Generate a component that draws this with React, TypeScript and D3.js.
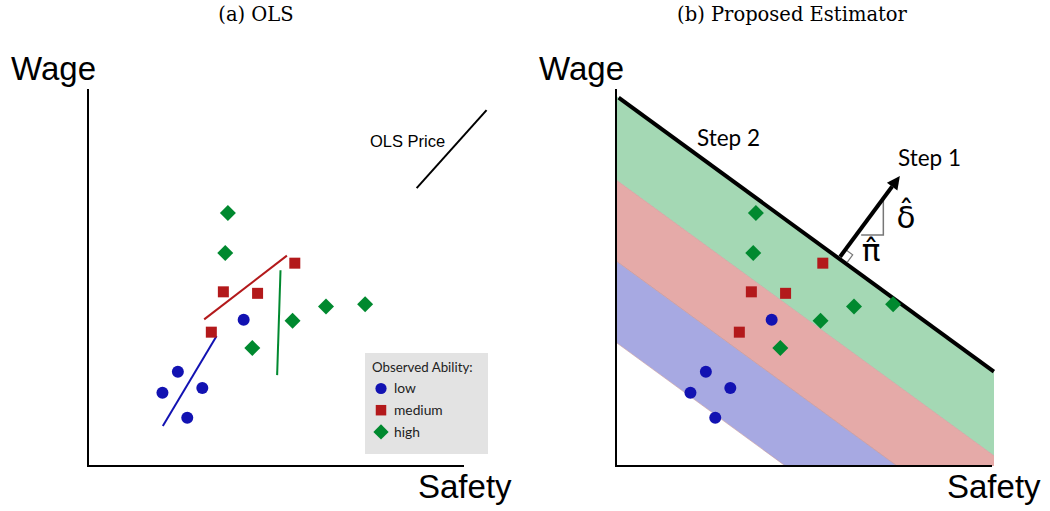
import React from "react";
import * as d3 from "d3";

// ---------- data (same observations drawn in both panels) ----------
const groups = ["low", "medium", "high"];
const lowX = [4.14, 2.39, 1.98, 3.04, 2.64];
const lowY = [3.88, 2.5, 1.94, 2.07, 1.28];
const medX = [5.5, 3.6, 4.51, 3.28];
const medY = [5.38, 4.62, 4.58, 3.55];
const highX = [3.72, 3.65, 5.44, 6.33, 7.37, 4.37];
const highY = [6.71, 5.65, 3.85, 4.23, 4.29, 3.13];

// within-group OLS lines (panel a)
const lowLineX = [1.99, 3.42];
const lowLineY = [1.06, 3.45];
const medLineX = [3.09, 5.29];
const medLineY = [3.89, 5.58];
const highLineX = [5.03, 5.12];
const highLineY = [2.41, 5.19];
const olsPriceX = [8.74, 10.6];
const olsPriceY = [7.37, 9.44];

// iso-lines of panel b: wage = intercept + slope * safety
const isoSlope = -0.728;
const isoIntercepts = [9.82, 7.59, 5.44, 3.28];

// step-1 arrow and its triangle (panel b, data units)
const arrowX = [5.96, 7.55];
const arrowY = [5.55, 7.69];
const triX = [6.52, 7.11, 7.11];
const triY = [6.13, 6.13, 7.07];

const colors = { low: "#1212b2", medium: "#b3191b", high: "#00892f" };
const bandColors = ["#a4d8b4", "#e5aaa8", "#a7a9e2"];

const W = 1050;
const H = 511;

const yS = d3.scaleLinear().domain([0, 10]).range([466, 89]);
const xA = d3.scaleLinear().domain([0, 10]).range([88, 464]);
const xB = d3.scaleLinear().domain([0, 10]).range([616, 992]);

const circle = d3.symbol(d3.symbolCircle, Math.PI * 6 * 6)()!;
const square = d3.symbol(d3.symbolSquare, 11 * 11)()!;
const diamond = d3.symbol(d3.symbolSquare, 11.3 * 11.3)()!;

const serif = "'DejaVu Serif', 'Liberation Serif', serif";
const sans = "'Liberation Sans', Arial, sans-serif";
const cal = "Lato, 'Open Sans', sans-serif";

function Points({ x }: { x: d3.ScaleLinear<number, number> }) {
  return (
    <g>
      {highX.map((v, i) => (
        <path key={"h" + i} d={diamond} fill={colors.high}
          transform={`translate(${x(v)},${yS(highY[i])}) rotate(45)`} />
      ))}
      {medX.map((v, i) => (
        <path key={"m" + i} d={square} fill={colors.medium}
          transform={`translate(${x(v)},${yS(medY[i])})`} />
      ))}
      {lowX.map((v, i) => (
        <path key={"l" + i} d={circle} fill={colors.low}
          transform={`translate(${x(v)},${yS(lowY[i])})`} />
      ))}
    </g>
  );
}

function Axes({ x }: { x: d3.ScaleLinear<number, number> }) {
  const [x0, x1] = x.range();
  return (
    <g>
      <line x1={x0} x2={x0} y1={yS(10)} y2={yS(0)} stroke="#000" strokeWidth={2} />
      <line x1={x0 - 1} x2={x1} y1={yS(0)} y2={yS(0)} stroke="#000" strokeWidth={2.2} />
    </g>
  );
}

export default function App() {
  const seg = (sx: d3.ScaleLinear<number, number>, xs: number[], ys: number[]) =>
    d3.line<number>().x((d) => sx(d)).y((_, i) => yS(ys[i]))(xs)!;

  // band polygons between consecutive iso lines
  const far = 16;
  const bands = isoIntercepts.slice(0, 3).map((top, i) => {
    const bot = isoIntercepts[i + 1];
    const pts: [number, number][] = [
      [0, top], [far, top + isoSlope * far], [far, bot + isoSlope * far], [0, bot],
    ];
    return d3.line()(pts.map(([a, b]) => [xB(a), yS(b)]))! + "Z";
  });
  const blackX = [0.07, 10.05];

  // right-angle mark at arrow base
  const bx = xB(arrowX[0]);
  const by = yS(arrowY[0]);
  const tx = xB(arrowX[1]);
  const ty = yS(arrowY[1]);
  const len = Math.hypot(tx - bx, ty - by);
  const vx = (tx - bx) / len;
  const vy = (ty - by) / len;
  const ux = -vy; // along the line, pointing up-left
  const uy = vx;
  const s = 9;
  const raPath = d3.line()([
    [bx + ux * s, by + uy * s],
    [bx + ux * s + vx * s, by + uy * s + vy * s],
    [bx + vx * s, by + vy * s],
  ])!;
  const headLen = 13;
  const headW = 6.5;
  const hb = [tx - vx * headLen, ty - vy * headLen];
  const head = d3.line()([
    [tx, ty],
    [hb[0] - vy * headW, hb[1] + vx * headW],
    [hb[0] + vy * headW, hb[1] - vx * headW],
  ])! + "Z";

  return (
    <svg width={W} height={H} style={{ position: "absolute", left: 0, top: 0, background: "#fff" }}
      viewBox={`0 0 ${W} ${H}`}>
      <defs>
        <clipPath id="plotB">
          <rect x={xB(0)} y={yS(10)} width={xB(10) - xB(0) + 2} height={yS(0) - yS(10)} />
        </clipPath>
      </defs>

      {/* ---------- panel (a) ---------- */}
      <text x={256} y={21} textAnchor="middle" fontFamily={serif} fontSize={19.5} fontWeight={300}>(a) OLS</text>
      <text x={11} y={80} fontFamily={sans} fontSize={33}>Wage</text>
      <text x={418} y={498} fontFamily={sans} fontSize={33}>Safety</text>
      <Axes x={xA} />
      <path d={seg(xA, lowLineX, lowLineY)} stroke={colors.low} strokeWidth={2} fill="none" />
      <path d={seg(xA, medLineX, medLineY)} stroke={colors.medium} strokeWidth={2} fill="none" />
      <path d={seg(xA, highLineX, highLineY)} stroke={colors.high} strokeWidth={2} fill="none" />
      <path d={seg(xA, olsPriceX, olsPriceY)} stroke="#000" strokeWidth={2} fill="none" />
      <text x={370} y={147} fontFamily={sans} fontSize={16.5}>OLS Price</text>
      <Points x={xA} />

      {/* legend */}
      <g>
        <rect x={365} y={353} width={123} height={101} fill="#e3e3e3" />
        <text x={372} y={372} fontFamily={cal} fontSize={13.3} fill="#222">Observed Ability:</text>
        {groups.map((g, i) => {
          const cy = 388.5 + i * 21.7;
          const d = g === "low" ? d3.symbol(d3.symbolCircle, Math.PI * 5.6 * 5.6)()! :
            g === "medium" ? d3.symbol(d3.symbolSquare, 10.5 * 10.5)()! : d3.symbol(d3.symbolSquare, 10.8 * 10.8)()!;
          return (
            <g key={g}>
              <path d={d} fill={(colors as any)[g]}
                transform={`translate(381,${cy})${g === "high" ? " rotate(45)" : ""}`} />
              <text x={394} y={cy + 4.8} fontFamily={cal} fontSize={13.8} fill="#222">{g}</text>
            </g>
          );
        })}
      </g>

      {/* ---------- panel (b) ---------- */}
      <text x={792} y={21} textAnchor="middle" fontFamily={serif} fontSize={19.5} fontWeight={300}>(b) Proposed Estimator</text>
      <text x={539} y={80} fontFamily={sans} fontSize={33}>Wage</text>
      <text x={947} y={498} fontFamily={sans} fontSize={33}>Safety</text>
      <g clipPath="url(#plotB)">
        {bands.map((d, i) => (
          <path key={i} d={d} fill={bandColors[i]} stroke={i > 0 ? "#c99a9a" : "none"} strokeWidth={0.6} />
        ))}
      </g>
      <Axes x={xB} />
      <path d={seg(xB, blackX, blackX.map((v) => isoIntercepts[0] + isoSlope * v))}
        stroke="#000" strokeWidth={4} fill="none" />
      <Points x={xB} />

      {/* step 1 arrow */}
      <path d={raPath} fill="none" stroke="#777" strokeWidth={1.2} />
      <path d={d3.line()(triX.map((v, i) => [xB(v), yS(triY[i])]))!} fill="none" stroke="#777" strokeWidth={1.5} />
      <line x1={bx} y1={by} x2={hb[0]} y2={hb[1]} stroke="#000" strokeWidth={4} />
      <path d={head} fill="#000" />
      <text x={697} y={146} fontFamily={cal} fontSize={22.5}>Step 2</text>
      <text x={898} y={166} fontFamily={cal} fontSize={22.5}>Step 1</text>
      <text x={906} y={228} textAnchor="middle" fontFamily="'DejaVu Sans', sans-serif" fontSize={31}>δ̂</text>
      <text x={871} y={261} textAnchor="middle" fontFamily="'DejaVu Sans', sans-serif" fontSize={31}>π̂</text>
    </svg>
  );
}
